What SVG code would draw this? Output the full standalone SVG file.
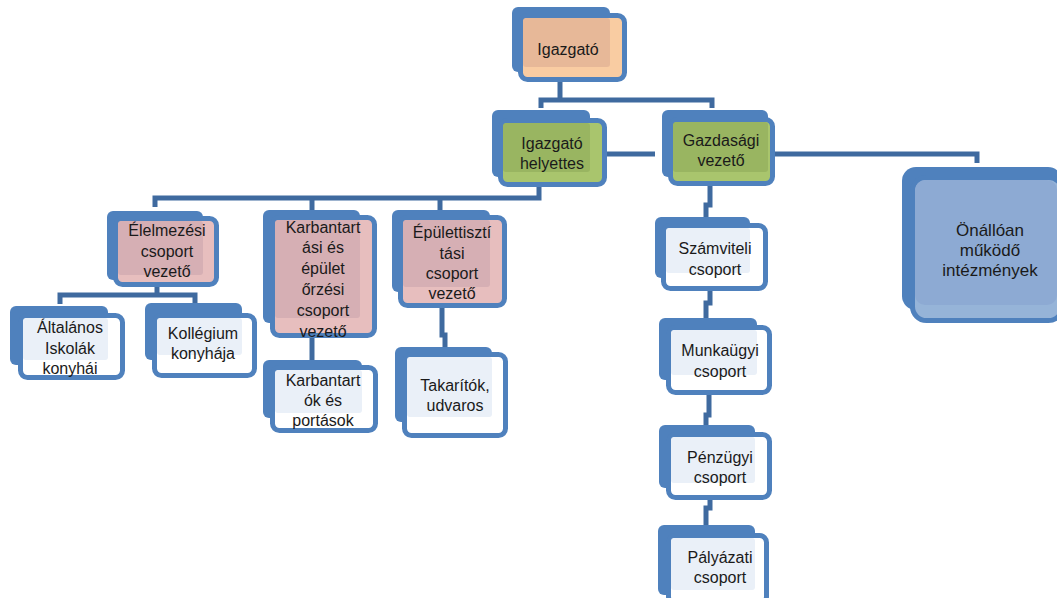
<svg xmlns="http://www.w3.org/2000/svg" width="1057" height="598" viewBox="0 0 1057 598">
<style>
.back{fill:#4F81BD}
.front{stroke:#4F81BD;stroke-width:5}
.peach .front{fill:#F9CCA2}.peach .shade{fill:#E7B898}
.green .front{fill:#A9C56D}.green .shade{fill:#99B561}
.pink .front{fill:#E7BEBE}.pink .shade{fill:#D6AFB4}
.light .front{fill:#FFFFFF}.light .shade{fill:#EAF0F8}
.blue .front{fill:#96B4D8}.blue .shade{fill:#8DAAD3}
text{font-family:"Liberation Sans",Arial,sans-serif;font-size:16px;fill:#1A1A1A;text-anchor:middle}
.big{font-size:17px}
.conn path{fill:none;stroke:#3F6A9F;stroke-width:5;stroke-linejoin:miter}
</style>
<rect width="1057" height="598" fill="#FFFFFF"/>
<g class="conn" id="connectors">
<path d="M560,80 V100"/>
<path d="M541,108 V100 H712 V108"/>
<path d="M605,154 H655"/>
<path d="M773,154 H977 V163"/>
<path d="M539,185 V198 H155 V207"/>
<path d="M312,198 V212"/>
<path d="M440,198 V212"/>
<path d="M157,285 V295"/>
<path d="M60,304 V295 H195 V304"/>
<path d="M312,336 V362"/>
<path d="M442,306 V335 H445 V349"/>
<path d="M710,184 V205 H706 V219"/>
<path d="M710,289 V303 H706 V320"/>
<path d="M709,393 V415 H706 V427"/>
<path d="M710,498 V508 H706 V527"/>
</g>
<g id="n-igazgato" class="peach">
<rect class="back" x="512" y="7" width="98" height="65" rx="6"/>
<rect class="front" x="520.5" y="15.5" width="104" height="64" rx="7"/>
<rect class="shade" x="523" y="18" width="87" height="49" rx="3"/>
<text x="568" y="55">Igazgató</text>
</g>
<g id="n-helyettes" class="green">
<rect class="back" x="492" y="110" width="98" height="67" rx="6"/>
<rect class="front" x="500.5" y="120.5" width="104" height="64" rx="7"/>
<rect class="shade" x="503" y="123" width="87" height="49" rx="3"/>
<text x="552" y="149">Igazgató</text>
<text x="552" y="169">helyettes</text>
</g>
<g id="n-gazdasagi" class="green">
<rect class="back" x="662" y="110" width="106" height="67" rx="6"/>
<rect class="front" x="670.5" y="119.5" width="102" height="64" rx="7"/>
<rect class="shade" x="673" y="122" width="95" height="50" rx="3"/>
<text x="721" y="146">Gazdasági</text>
<text x="721" y="166">vezető</text>
</g>
<g id="n-onallo" class="blue">
<rect class="back" x="902" y="167" width="160" height="143" rx="14"/>
<rect class="front" x="912.5" y="177.5" width="150" height="143" rx="14"/>
<rect class="shade" x="915" y="180" width="142" height="125" rx="10"/>
<text class="big" x="990" y="236">Önállóan</text>
<text class="big" x="990" y="256">működő</text>
<text class="big" x="990" y="276">intézmények</text>
</g>
<g id="n-elelmezesi" class="pink">
<rect class="back" x="107" y="211" width="96" height="69" rx="6"/>
<rect class="front" x="115.5" y="218.5" width="101" height="66" rx="7"/>
<rect class="shade" x="118" y="221" width="85" height="54" rx="3"/>
<text x="167" y="236">Élelmezési</text>
<text x="167" y="257">csoport</text>
<text x="167" y="277">vezető</text>
</g>
<g id="n-karbantartasi" class="pink">
<rect class="back" x="263" y="210" width="97" height="113" rx="6"/>
<rect class="front" x="272.5" y="217.5" width="102" height="118" rx="7"/>
<rect class="shade" x="275" y="220" width="85" height="98" rx="3"/>
<text x="323" y="233">Karbantart</text>
<text x="323" y="253">ási  és</text>
<text x="323" y="274">épület</text>
<text x="323" y="295">őrzési</text>
<text x="323" y="316">csoport</text>
<text x="323" y="337">vezető</text>
</g>
<g id="n-epulettisztitasi" class="pink">
<rect class="back" x="392" y="210" width="98" height="82" rx="6"/>
<rect class="front" x="400.5" y="217.5" width="104" height="88" rx="7"/>
<rect class="shade" x="403" y="220" width="87" height="67" rx="3"/>
<text x="452" y="238">Épülettisztí</text>
<text x="452" y="259">tási</text>
<text x="452" y="279">csoport</text>
<text x="452" y="299">vezető</text>
</g>
<g id="n-altalanos" class="light">
<rect class="back" x="10" y="306" width="98" height="59" rx="6"/>
<rect class="front" x="20.5" y="315.5" width="102" height="62" rx="7"/>
<rect class="shade" x="23" y="318" width="85" height="42" rx="3"/>
<text x="70" y="333">Általános</text>
<text x="70" y="354">Iskolák</text>
<text x="70" y="374">konyhái</text>
</g>
<g id="n-kollegium" class="light">
<rect class="back" x="145" y="303" width="97" height="57" rx="6"/>
<rect class="front" x="154.5" y="315.5" width="100" height="60" rx="7"/>
<rect class="shade" x="157" y="318" width="85" height="37" rx="3"/>
<text x="203" y="339">Kollégium</text>
<text x="203" y="359">konyhája</text>
</g>
<g id="n-karbantartok" class="light">
<rect class="back" x="263" y="360" width="99" height="58" rx="6"/>
<rect class="front" x="272.5" y="367.5" width="103" height="63" rx="7"/>
<rect class="shade" x="275" y="370" width="87" height="43" rx="3"/>
<text x="323" y="386">Karbantart</text>
<text x="323" y="406">ók és</text>
<text x="323" y="426">portások</text>
</g>
<g id="n-takaritok" class="light">
<rect class="back" x="395" y="347" width="97" height="75" rx="6"/>
<rect class="front" x="404.5" y="354.5" width="101" height="81" rx="7"/>
<rect class="shade" x="407" y="357" width="85" height="60" rx="3"/>
<text x="455" y="391">Takarítók,</text>
<text x="455" y="411">udvaros</text>
</g>
<g id="n-szamviteli" class="light">
<rect class="back" x="655" y="217" width="95" height="61" rx="6"/>
<rect class="front" x="663.5" y="225.5" width="102" height="63" rx="7"/>
<rect class="shade" x="666" y="228" width="84" height="45" rx="3"/>
<text x="715" y="254">Számviteli</text>
<text x="715" y="275">csoport</text>
</g>
<g id="n-munkaugyi" class="light">
<rect class="back" x="659" y="318" width="98" height="62" rx="6"/>
<rect class="front" x="668.5" y="327.5" width="101" height="65" rx="7"/>
<rect class="shade" x="671" y="330" width="86" height="45" rx="3"/>
<text x="720" y="356">Munkaügyi</text>
<text x="720" y="377">csoport</text>
</g>
<g id="n-penzugyi" class="light">
<rect class="back" x="659" y="425" width="96" height="63" rx="6"/>
<rect class="front" x="668.5" y="434.5" width="101" height="63" rx="7"/>
<rect class="shade" x="671" y="437" width="84" height="46" rx="3"/>
<text x="720" y="463">Pénzügyi</text>
<text x="720" y="483">csoport</text>
</g>
<g id="n-palyazati" class="light">
<rect class="back" x="658" y="525" width="97" height="70" rx="6"/>
<rect class="front" x="668.5" y="535.5" width="98" height="68" rx="7"/>
<rect class="shade" x="671" y="538" width="84" height="52" rx="3"/>
<text x="720" y="563">Pályázati</text>
<text x="720" y="583">csoport</text>
</g>
</svg>
